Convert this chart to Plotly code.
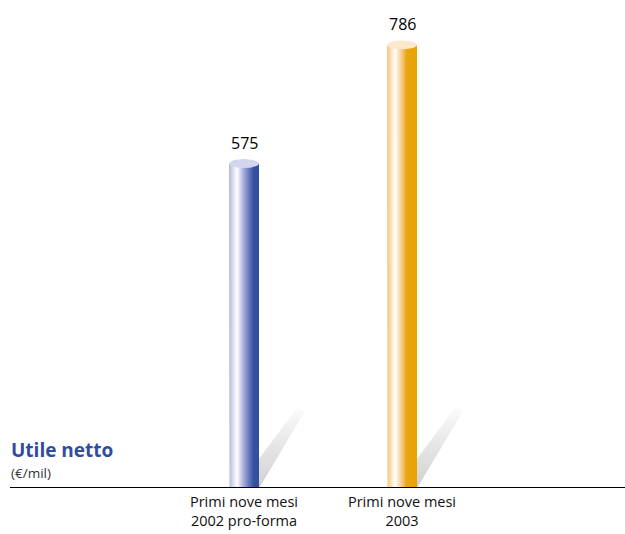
import numpy as np
import plotly.graph_objects as go

categories = ["Primi nove mesi<br>2002 pro-forma", "Primi nove mesi<br>2003"]
values = [575, 786]
value_labels = ["575", "786"]
title_text = "Utile netto"
unit_text = "(€/mil)"

blue_scale = [[0, "#B3B7DD"], [0.12, "#D6D8EE"], [0.27, "#FFFFFF"], [0.4, "#C9CCE8"],
              [0.55, "#9299CF"], [0.7, "#5E6FB6"], [0.82, "#3653A3"], [1, "#2E4D9D"]]
orange_scale = [[0, "#F4C67E"], [0.12, "#F9DDB0"], [0.27, "#FFFFFF"], [0.4, "#FAE0B8"],
                [0.55, "#F3BE62"], [0.65, "#EAA612"], [1, "#E9A300"]]
scales = [blue_scale, orange_scale]
cap_colors = ["#D3D5EC", "#FCE8CC"]

FONT = "Open Sans"

# geometry helpers (pixel -> data conversions)
PX_X = 158.0      # pixels per x unit
PX_Y = 0.5625     # pixels per y unit
W = 30 / PX_X     # bar width in x units
A = W / 2
B = 4.5 / PX_Y    # ellipse semi-minor in y units
YMAX = 487 / PX_Y

fig = go.Figure()
t = np.linspace(0, np.pi, 40)

for i, v in enumerate(values):
    cx = i
    # shadow
    sx = [cx + 14 / PX_X, cx + 53 / PX_X, cx + 61 / PX_X, cx + 14 / PX_X]
    sy = [27 / PX_Y, 79 / PX_Y, 76 / PX_Y, -3 / PX_Y]
    fig.add_trace(go.Scatter(x=sx + [sx[0]], y=sy + [sy[0]], mode="lines", line=dict(width=0),
                             fill="toself",
                             fillgradient=dict(type="vertical",
                                               colorscale=[[0, "#D0D0D0"], [0.5, "#E4E4E4"], [1, "#FBFBFB"]]),
                             hoverinfo="skip", showlegend=False))
    # body
    bx = [cx - A, cx - A] + list(cx - A * np.cos(t)) + [cx + A, cx - A]
    by = [v, 0] + list(-B * np.sin(t)) + [v, v]
    fig.add_trace(go.Scatter(x=bx, y=by, mode="lines", line=dict(width=0), fill="toself",
                             fillgradient=dict(type="horizontal", colorscale=scales[i]),
                             hoverinfo="skip", showlegend=False))
    # top cap
    tt = np.linspace(0, 2 * np.pi, 60)
    fig.add_trace(go.Scatter(x=cx + A * np.cos(tt), y=v + B * np.sin(tt), mode="lines",
                             line=dict(width=0), fill="toself", fillcolor=cap_colors[i],
                             hoverinfo="skip", showlegend=False))
    fig.add_annotation(x=cx, y=v, text=value_labels[i], showarrow=False, yanchor="bottom",
                       yshift=8, font=dict(family=FONT, size=16, color="#000000"))

fig.add_annotation(x=0, xref="paper", y=(487 - 450) / 487, yref="paper", text="<b>" + title_text + "</b>",
                   showarrow=False, xanchor="left", yanchor="middle", xshift=-1,
                   font=dict(family=FONT, size=19, color="#2E4D9D"))
fig.add_annotation(x=0, xref="paper", y=(487 - 472.5) / 487, yref="paper", text=unit_text,
                   showarrow=False, xanchor="left", yanchor="middle", xshift=-1,
                   font=dict(family=FONT, size=13.5, color="#333333"))

fig.update_layout(
    width=625, height=534,
    margin=dict(l=10, r=0, t=0, b=47, autoexpand=False),
    plot_bgcolor="white", paper_bgcolor="white",
    xaxis=dict(range=[(10 - 244) / PX_X, (625 - 244) / PX_X], tickvals=[0, 1], ticktext=categories,
               showgrid=False, zeroline=False, showline=True, linecolor="#000000", linewidth=1,
               ticks="outside", ticklen=2, tickcolor="rgba(0,0,0,0)", automargin=False,
               tickfont=dict(family=FONT, size=14.5, color="#111111")),
    yaxis=dict(range=[0, YMAX], visible=False, showgrid=False, zeroline=False, automargin=False),
)

fig.write_html("out.html")
